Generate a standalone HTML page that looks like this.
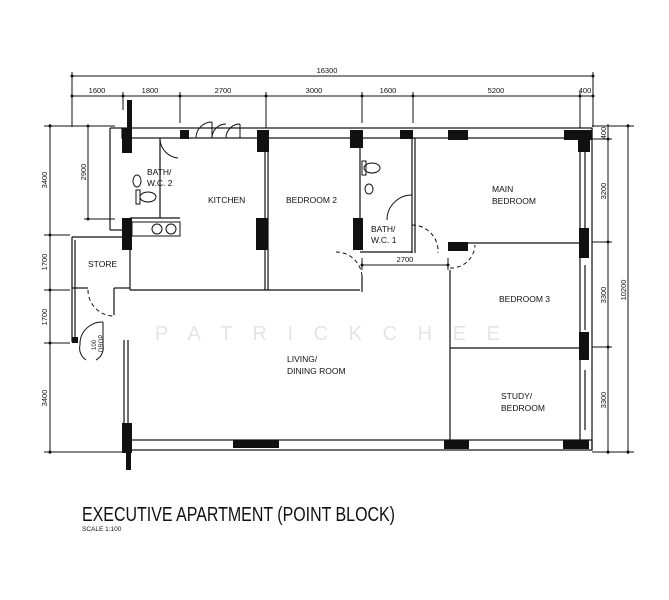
<!DOCTYPE html>
<html><head><meta charset="utf-8"><style>
html,body{margin:0;padding:0;background:#fff;}
svg{display:block;}
text{font-family:"Liberation Sans",sans-serif;fill:#111;}
</style></head><body>
<svg width="669" height="600" viewBox="0 0 669 600" xmlns="http://www.w3.org/2000/svg">
<g stroke="#111" stroke-width="1" fill="none">
<line x1="72" y1="76" x2="593" y2="76"/>
<line x1="72" y1="96" x2="593" y2="96"/>
<line x1="72" y1="72" x2="72" y2="127"/>
<line x1="593" y1="72" x2="593" y2="127"/>
<line x1="123" y1="92" x2="123" y2="110"/>
<line x1="180" y1="92" x2="180" y2="123"/>
<line x1="266" y1="92" x2="266" y2="128"/>
<line x1="362" y1="92" x2="362" y2="123"/>
<line x1="413" y1="92" x2="413" y2="123"/>
<line x1="580" y1="92" x2="580" y2="128"/>
<line x1="50" y1="124" x2="50" y2="454"/>
<line x1="44" y1="126" x2="110" y2="126"/>
<line x1="44" y1="235" x2="70" y2="235"/>
<line x1="44" y1="290" x2="70" y2="290"/>
<line x1="44" y1="343" x2="70" y2="343"/>
<line x1="44" y1="452" x2="125" y2="452"/>
<line x1="88" y1="126" x2="88" y2="219"/>
<line x1="84" y1="126" x2="115" y2="126"/>
<line x1="84" y1="219" x2="115" y2="219"/>
<line x1="608" y1="124" x2="608" y2="454"/>
<line x1="628" y1="124" x2="628" y2="454"/>
<line x1="592" y1="126" x2="634" y2="126"/>
<line x1="592" y1="139" x2="612" y2="139"/>
<line x1="592" y1="242" x2="612" y2="242"/>
<line x1="592" y1="347" x2="612" y2="347"/>
<line x1="592" y1="452" x2="634" y2="452"/>
<line x1="362" y1="265" x2="448" y2="265"/>
<line x1="362" y1="258" x2="362" y2="270"/>
<line x1="448" y1="258" x2="448" y2="270"/>
</g>
<g fill="#111">
<circle cx="72" cy="76" r="1.5"/><circle cx="593" cy="76" r="1.5"/>
<circle cx="72" cy="96" r="1.5"/><circle cx="123" cy="96" r="1.5"/><circle cx="180" cy="96" r="1.5"/><circle cx="266" cy="96" r="1.5"/><circle cx="362" cy="96" r="1.5"/><circle cx="413" cy="96" r="1.5"/><circle cx="580" cy="96" r="1.5"/><circle cx="593" cy="96" r="1.5"/>
<circle cx="50" cy="126" r="1.5"/><circle cx="50" cy="235" r="1.5"/><circle cx="50" cy="290" r="1.5"/><circle cx="50" cy="343" r="1.5"/><circle cx="50" cy="452" r="1.5"/>
<circle cx="88" cy="126" r="1.5"/><circle cx="88" cy="219" r="1.5"/>
<circle cx="608" cy="139" r="1.5"/><circle cx="608" cy="242" r="1.5"/><circle cx="608" cy="347" r="1.5"/><circle cx="608" cy="452" r="1.5"/>
<circle cx="628" cy="126" r="1.5"/><circle cx="628" cy="452" r="1.5"/>
<circle cx="362" cy="265" r="1.5"/><circle cx="448" cy="265" r="1.5"/>
</g>
<g font-size="7.5" text-anchor="middle">
<text x="327" y="73">16300</text>
<text x="97" y="93">1600</text><text x="150" y="93">1800</text><text x="223" y="93">2700</text><text x="314" y="93">3000</text><text x="388" y="93">1600</text><text x="496" y="93">5200</text><text x="585" y="93">400</text>
<text x="405" y="262">2700</text>
<text transform="translate(47,180) rotate(-90)">3400</text>
<text transform="translate(47,262) rotate(-90)">1700</text>
<text transform="translate(47,317) rotate(-90)">1700</text>
<text transform="translate(47,398) rotate(-90)">3400</text>
<text transform="translate(86,172) rotate(-90)">2900</text>
<text transform="translate(606,133) rotate(-90)">400</text>
<text transform="translate(606,191) rotate(-90)">3200</text>
<text transform="translate(606,295) rotate(-90)">3300</text>
<text transform="translate(606,400) rotate(-90)">3300</text>
<text transform="translate(626,290) rotate(-90)">10200</text>
</g>
<g stroke="#111" stroke-width="1.2" fill="none">
<rect x="122" y="128" width="470" height="10"/>
<line x1="580" y1="138" x2="580" y2="440"/>
<line x1="592" y1="128" x2="592" y2="450"/>
<rect x="128" y="440" width="464" height="10"/>
<line x1="128" y1="340" x2="128" y2="450"/>
<line x1="124" y1="340" x2="124" y2="452"/>
<line x1="110" y1="128" x2="110" y2="230"/>
<line x1="110" y1="128" x2="122" y2="128"/>
<line x1="110" y1="230" x2="122" y2="230"/>
<line x1="72" y1="237" x2="124" y2="237"/>
<line x1="72" y1="237" x2="72" y2="342"/>
<line x1="75" y1="240" x2="75" y2="342"/>
<line x1="130" y1="218" x2="130" y2="290"/>
<line x1="72" y1="288" x2="88" y2="288"/>
<line x1="114" y1="288" x2="130" y2="288"/>
<line x1="114" y1="288" x2="114" y2="315"/>
<line x1="130" y1="290" x2="360" y2="290"/>
<line x1="265" y1="138" x2="265" y2="290"/>
<line x1="268" y1="138" x2="268" y2="290"/>
<line x1="360" y1="138" x2="360" y2="250"/>
<line x1="362" y1="276" x2="362" y2="292"/>
<line x1="360" y1="252" x2="412" y2="252"/>
<line x1="412" y1="138" x2="412" y2="253"/>
<line x1="415" y1="138" x2="415" y2="253"/>
<line x1="160" y1="138" x2="160" y2="218"/>
<line x1="130" y1="218" x2="180" y2="218"/>
<line x1="450" y1="243" x2="580" y2="243"/>
<line x1="450" y1="348" x2="580" y2="348"/>
<line x1="450" y1="270" x2="450" y2="440"/>
<line x1="585" y1="150" x2="585" y2="230"/><line x1="585" y1="265" x2="585" y2="330"/><line x1="585" y1="370" x2="585" y2="430"/>
</g>
<g stroke="#111" stroke-width="1" fill="none" stroke-dasharray="4,3">
<path d="M88 290 A26 26 0 0 0 114 316"/>
<path d="M362 276 A26 26 0 0 0 336 252"/>
<path d="M412 225 A26 26 0 0 1 438 253"/>
<path d="M450 268 A24 24 0 0 0 475 245"/>
</g>
<g stroke="#111" stroke-width="1" fill="none">
<path d="M387 220 A25 25 0 0 1 412 195"/>
<path d="M160 140 A20 20 0 0 0 178 158"/>
<path d="M196 138 A16 16 0 0 1 212 122 M212 122 V138"/>
<path d="M212 138 A14 14 0 0 1 226 124"/>
<path d="M226 138 A14 14 0 0 1 240 124 M240 124 V138"/>
<path d="M80 345 A22 22 0 0 1 103 322 M103 322 V345"/>
<path d="M80 345 A14 14 0 0 0 86 360 M103 345 A14 14 0 0 1 96 360"/>
<ellipse cx="148" cy="197" rx="8" ry="5"/><rect x="136" y="190" width="4" height="14"/>
<ellipse cx="137" cy="181" rx="4" ry="6"/>
<ellipse cx="372" cy="168" rx="8" ry="5"/><rect x="362" y="161" width="4" height="14"/>
<ellipse cx="369" cy="189" rx="4" ry="5"/>
<rect x="132" y="222" width="48" height="14"/>
<ellipse cx="157" cy="229" rx="5" ry="5"/><ellipse cx="171" cy="229" rx="5" ry="5"/>
</g>
<g fill="#111">
<rect x="122" y="128" width="10" height="25"/>
<rect x="122" y="218" width="10" height="32"/>
<rect x="180" y="130" width="9" height="9"/>
<rect x="257" y="130" width="12" height="22"/>
<rect x="256" y="218" width="12" height="32"/>
<rect x="350" y="130" width="13" height="18"/>
<rect x="353" y="218" width="10" height="32"/>
<rect x="400" y="130" width="13" height="9"/>
<rect x="448" y="130" width="20" height="10"/>
<rect x="448" y="242" width="20" height="9"/>
<rect x="564" y="130" width="28" height="10"/>
<rect x="578" y="130" width="12" height="22"/>
<rect x="579" y="228" width="10" height="30"/>
<rect x="579" y="332" width="10" height="28"/>
<rect x="444" y="440" width="25" height="9"/>
<rect x="563" y="440" width="26" height="9"/>
<rect x="122" y="423" width="10" height="30"/>
<rect x="233" y="440" width="46" height="8"/>
<rect x="72" y="337" width="6" height="6"/>
<rect x="126" y="452" width="5" height="18"/>
<rect x="127" y="100" width="5" height="28"/>
</g>
<text x="155" y="340" font-size="20" style="fill:#e4e4e4" textLength="345">P A T R I C K   C H E E</text>
<g font-size="8.5">
<text x="147" y="175">BATH/</text><text x="147" y="186">W.C. 2</text>
<text x="208" y="203">KITCHEN</text>
<text x="286" y="203">BEDROOM 2</text>
<text x="371" y="232">BATH/</text><text x="371" y="243">W.C. 1</text>
<text x="492" y="192">MAIN</text><text x="492" y="204">BEDROOM</text>
<text x="499" y="302">BEDROOM 3</text>
<text x="501" y="399">STUDY/</text><text x="501" y="411">BEDROOM</text>
<text x="287" y="362">LIVING/</text><text x="287" y="374">DINING ROOM</text>
<text x="88" y="267">STORE</text>
</g>
<text transform="translate(96,350) rotate(-90)" font-size="6">100</text>
<text transform="translate(103,352) rotate(-90)" font-size="6">DROP</text>
<text x="82" y="521" font-size="20" textLength="313" lengthAdjust="spacingAndGlyphs">EXECUTIVE APARTMENT (POINT BLOCK)</text>
<text x="82" y="531" font-size="6.5">SCALE  1:100</text>
</svg>
</body></html>
